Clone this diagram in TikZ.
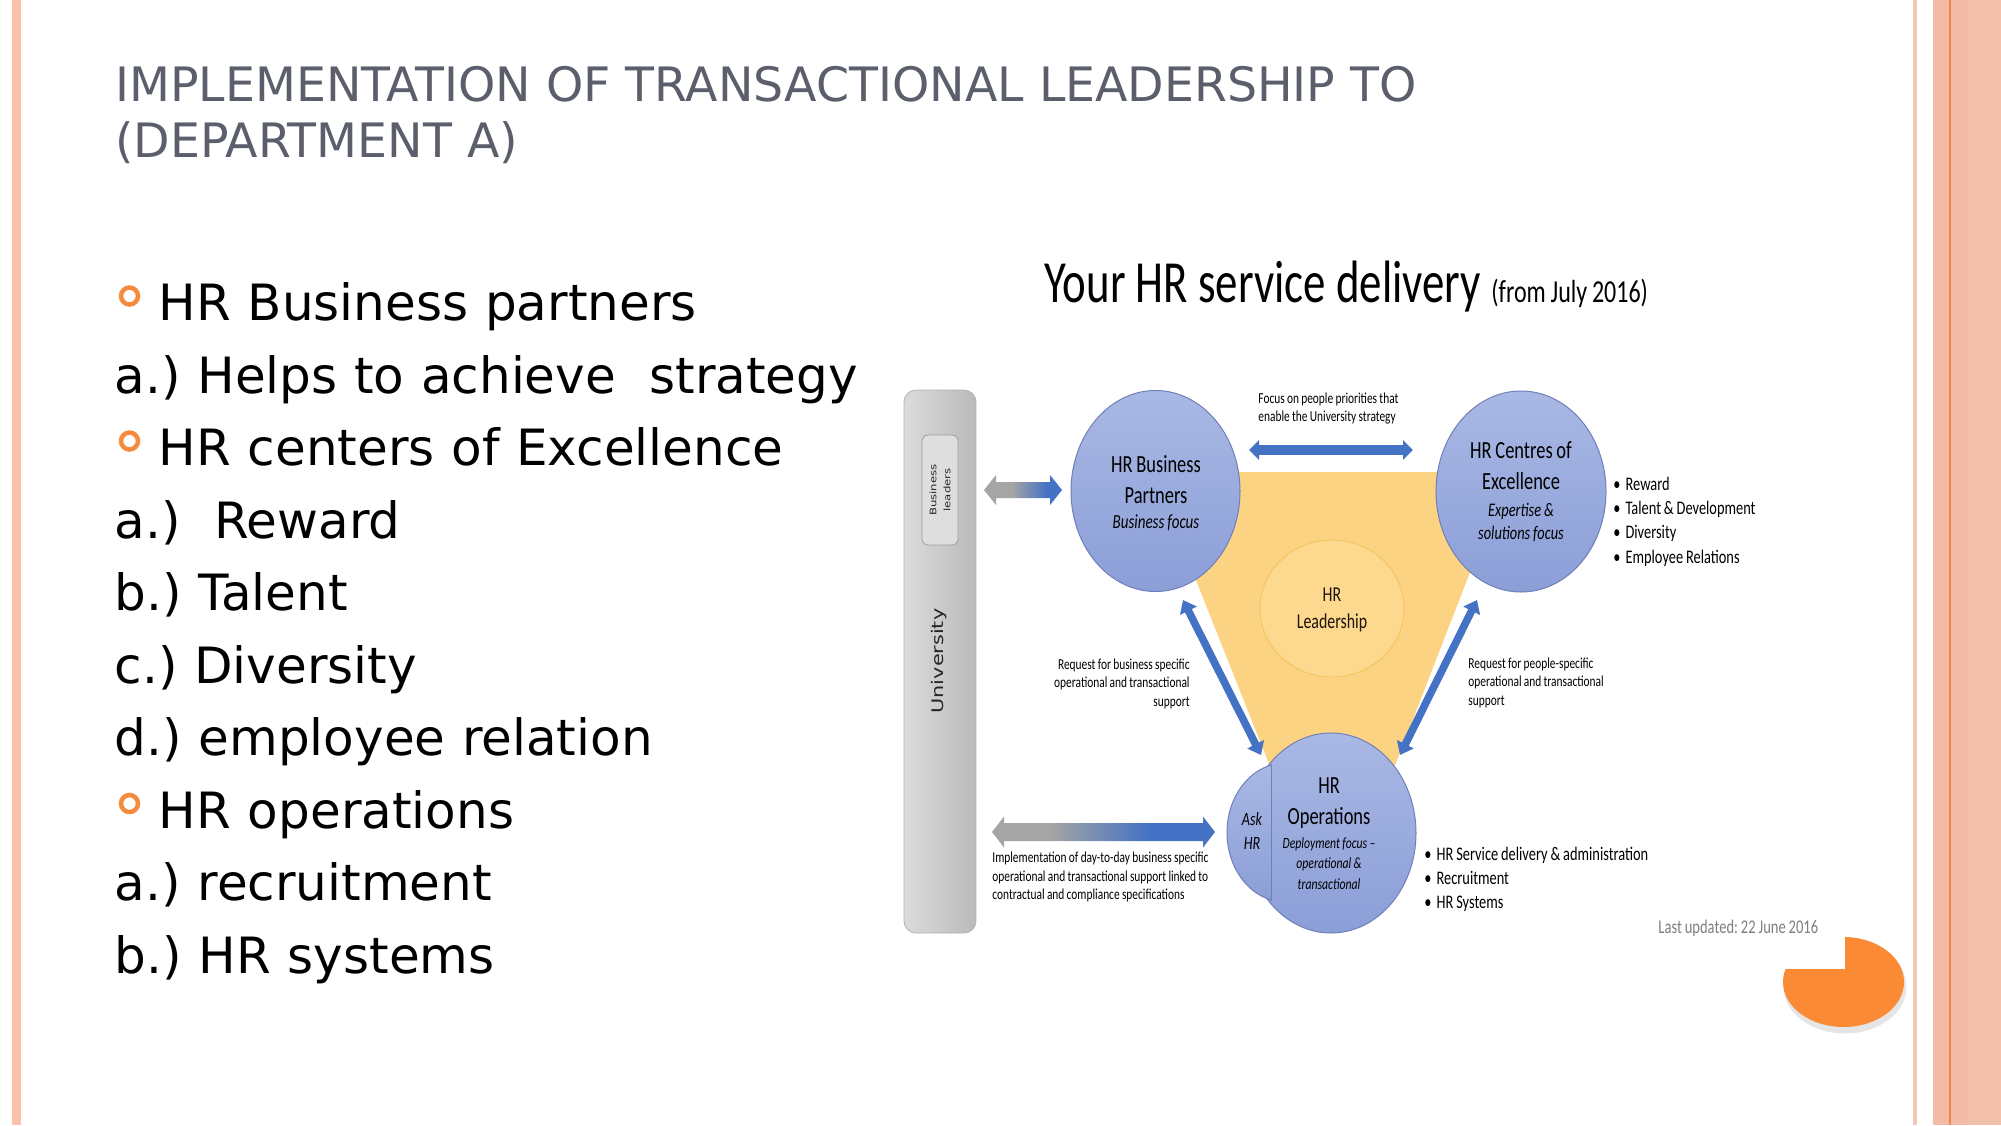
\documentclass[tikz,border=0pt]{standalone}
\usepackage{fontspec}
\setmainfont{DejaVu Sans}
\newfontfamily\dgfont[FakeStretch=0.75]{Carlito}
\newfontfamily\dgtitle[FakeStretch=0.75]{Carlito}
\newfontfamily\rotfont[FakeStretch=1.3]{DejaVu Sans}
\usetikzlibrary{shapes.geometric,arrows.meta}
\frenchspacing
\newcommand\tightsp{\spaceskip=0.15em\relax\xspaceskip=0.15em\relax}
\definecolor{titlegray}{HTML}{5B5F6B}
\definecolor{ringorange}{HTML}{F58B3C}
\definecolor{lborder}{HTML}{FBC2AB}
\definecolor{rthin}{HTML}{F8C6B4}
\definecolor{rband}{HTML}{F3BBA6}
\definecolor{rband2}{HTML}{F2BFAA}
\definecolor{rline}{HTML}{F08848}
\definecolor{triyellow}{HTML}{FBD382}
\definecolor{leadyellow}{HTML}{FCD98F}
\definecolor{leadborder}{HTML}{F2C45A}
\definecolor{ctop}{HTML}{A9B8E4}
\definecolor{cbot}{HTML}{8B9ED7}
\definecolor{cborder}{HTML}{6F80B8}
\definecolor{ablue}{HTML}{4472C4}
\definecolor{agray}{HTML}{A5A5A5}
\definecolor{pieorange}{HTML}{FA8A34}
\definecolor{lastgray}{HTML}{7F7F7F}
\pgfdeclarehorizontalshading{gbtop}{100bp}{color(0bp)=(agray); color(43bp)=(agray); color(65bp)=(ablue); color(100bp)=(ablue)}
\pgfdeclarehorizontalshading{gbbot}{100bp}{color(0bp)=(agray); color(38bp)=(agray); color(60bp)=(ablue); color(100bp)=(ablue)}
\tikzset{
  ttl/.style={anchor=base west, inner sep=0, text=titlegray, font=\fontsize{23.7}{28}\selectfont},
  ring/.style={circle, draw=ringorange, line width=2.25pt, minimum size=8.5pt, inner sep=0},
  bluec/.style={ellipse, draw=cborder, line width=0.5pt, top color=ctop, bottom color=cbot, inner sep=0},
  ctitle/.style={anchor=base, inner sep=0, text width=90pt, align=center, font=\dgfont\fontsize{12.3}{15.5}\selectfont},
  csub/.style={anchor=base, inner sep=0, text width=90pt, align=center},
  smalltxt/.style={inner sep=0, text width=125pt, font=\dgfont\fontsize{7.6}{9.25}\selectfont},
  blist/.style={anchor=base west, inner sep=0, text width=120pt, align=left, font=\dgfont\fontsize{9.6}{12.2}\selectfont},
  blarrow/.style={draw=ablue, line width=5pt, {Triangle[length=5pt,width=9.5pt]}-{Triangle[length=5pt,width=9.5pt]}},
  diarrow/.style={draw=ablue, line width=3.8pt, {Triangle[length=6pt,width=9pt]}-{Triangle[length=6pt,width=9pt]}},
}
\begin{document}
\begin{tikzpicture}[x=0.5pt,y=-0.5pt]
\useasboundingbox (0,0) rectangle (2001,1125);
\fill[white] (0,0) rectangle (2001,1125);
% borders
\fill[lborder] (12,0) rectangle (21,1125);
\fill[rthin] (1913,0) rectangle (1917,1125);
\fill[rband] (1933,0) rectangle (2001,1125);
\fill[rband2] (1968,0) rectangle (2001,1125);
\fill[rline] (1949,0) rectangle (1951,1125);
% title
\node[ttl] (t1) at (115,101) {IMPLEMENTATION OF TRANSACTIONAL LEADERSHIP TO};
\node[ttl] (t2) at (115,157) {(DEPARTMENT A)};
% body
\node[anchor=base west, inner sep=0, text width=400pt, align=left, font=\fontsize{25}{36.25}\selectfont] (body) at (114.5,320.7)
{\hspace*{22pt}HR Business partners\\
a.) Helps to achieve\ \ strategy\\
\hspace*{22pt}HR centers of Excellence\\
a.)\ \ Reward\\
b.) Talent\\
c.) Diversity\\
d.) employee relation\\
\hspace*{22pt}HR operations\\
a.) recruitment\\
b.) HR systems};
\node[ring] (r1) at (129.5,296) {};
\node[ring] (r2) at (129.5,441) {};
\node[ring] (r3) at (129.5,803.5) {};
% diagram title
\node[anchor=base west, inner sep=0, font=\dgtitle\fontsize{29.9}{30}\selectfont] (dtitle) at (1044,302) {Your HR service delivery};
\node[anchor=base west, inner sep=0, font=\dgtitle\fontsize{16}{18}\selectfont] (dsub) at (1491,302) {\tightsp(from July 2016)};
% university bar
\node[rectangle, rounded corners=6pt, minimum width=36pt, minimum height=271.5pt, left color=black!14, right color=black!27, draw=black!30, line width=0.4pt] (bar) at (940,661.5) {};
\node[rectangle, rounded corners=3pt, minimum width=18pt, minimum height=55pt, fill=black!13, draw=black!38, line width=0.4pt] (blbox) at (940,490) {};
\node[rotate=90, inner sep=0, align=center, text=black!85, font=\rotfont\fontsize{4.5}{7}\selectfont] (bltext) at (940,490) {Business\\leaders};
\node[rotate=90, inner sep=0, text=black!85, font=\rotfont\fontsize{8}{10}\selectfont] (univ) at (939,661) {University};
% triangle
\fill[triyellow] (1153,472) -- (1509,472) -- (1333,925) -- cycle;
% circles
\node[ellipse, fill=leadyellow, draw=leadborder, line width=0.4pt, minimum width=72pt, minimum height=68.5pt, inner sep=0] (lead) at (1332,608.5) {};
\node[bluec, minimum width=84.5pt, minimum height=100.5pt] (bp) at (1155.5,491) {};
\node[bluec, minimum width=85pt, minimum height=100.5pt] (coe) at (1521,491.5) {};
\node[bluec, minimum width=85pt, minimum height=100pt] (ops) at (1331,833) {};
\begin{scope}
\clip (1200,700) rectangle (1271,960);
\node[bluec, minimum width=58pt, minimum height=69.5pt] (askhr) at (1285,832.5) {};
\end{scope}
\draw[cborder, line width=0.5pt] (1271,764) -- (1271,901);
% circle texts
\node[ctitle] (bpt) at (1156,472) {\tightsp HR Business\\Partners};
\node[csub, font=\dgfont\itshape\fontsize{10}{12}\selectfont] (bps) at (1156,528) {\tightsp Business focus};
\node[ctitle] (coet) at (1521,458) {\tightsp HR Centres of\\Excellence};
\node[csub, font=\dgfont\itshape\fontsize{9.6}{11.5}\selectfont] (coes) at (1521,516) {\tightsp Expertise \&\\solutions focus};
\node[csub, text=black!85!brown, font=\dgfont\fontsize{10.6}{13.2}\selectfont] (leadt) at (1332,601.7) {HR\\Leadership};
\node[ctitle] (opst) at (1329,793) {HR\\Operations};
\node[csub, font=\dgfont\itshape\fontsize{7.8}{10.25}\selectfont] (opss) at (1329,848) {\tightsp Deployment focus –\\operational \&\\transactional};
\node[csub, text width=30pt, font=\dgfont\itshape\fontsize{9.4}{12}\selectfont] (askt) at (1252,825) {Ask\\HR};
% arrows
\coordinate (ta1) at (1249,450);
\coordinate (ta2) at (1413,450);
\draw[blarrow] (ta1) -- (ta2);
\coordinate (dl1) at (1183,600);
\coordinate (dl2) at (1261,755);
\draw[diarrow] (dl1) -- (dl2);
\coordinate (dr1) at (1477,600);
\coordinate (dr2) at (1400,755);
\draw[diarrow] (dr1) -- (dr2);
\coordinate (ga1) at (984,490);
\shade[shading=gbtop] (ga1) -- ++(12,-15) -- ++(0,7) -- ++(54,0) -- ++(0,-7) -- ++(12,15) -- ++(-12,15) -- ++(0,-7) -- ++(-54,0) -- ++(0,7) -- cycle;
\coordinate (gb1) at (992,832);
\shade[shading=gbbot] (gb1) -- ++(12,-15.5) -- ++(0,6.5) -- ++(199,0) -- ++(0,-6.5) -- ++(12,15.5) -- ++(-12,15.5) -- ++(0,-6.5) -- ++(-199,0) -- ++(0,6.5) -- cycle;
% small texts
\node[smalltxt, anchor=base west, align=left] (focus) at (1258,403) {\tightsp Focus on people priorities that\\enable the University strategy};
\node[smalltxt, anchor=base east, align=right] (reqb) at (1190,669) {\tightsp Request for business specific\\operational and transactional\\support};
\node[smalltxt, anchor=base west, align=left] (reqp) at (1468,668) {\tightsp Request for people-specific\\operational and transactional\\support};
\node[smalltxt, anchor=base west, align=left, font=\dgfont\fontsize{7.6}{9.3}\selectfont] (impl) at (992,862.7) {\tightsp Implementation of day-to-day business specific\\operational and transactional support linked to\\contractual and compliance specifications};
% bullet lists
\node[blist] (coel) at (1613,490) {\tightsp•\hspace{2.5pt}Reward\\•\hspace{2.5pt}Talent \& Development\\•\hspace{2.5pt}Diversity\\•\hspace{2.5pt}Employee Relations};
\node[blist, font=\dgfont\fontsize{9.6}{12.1}\selectfont] (opsl) at (1424,860) {\tightsp•\hspace{2.5pt}HR Service delivery \& administration\\•\hspace{2.5pt}Recruitment\\•\hspace{2.5pt}HR Systems};
\node[anchor=base west, inner sep=0, text=lastgray, font=\dgfont\fontsize{9.7}{12}\selectfont] (last) at (1658,933) {\tightsp Last updated: 22 June 2016};
% orange pie
\begin{scope}
\clip (1845,900) rectangle (1930,1050) (1760,969) rectangle (1930,1050);
\fill[black, opacity=0.10] (1845,987) ellipse [x radius=61.5, y radius=46.5];
\fill[pieorange] (1843.5,982) ellipse [x radius=60.5, y radius=45];
\end{scope}
\end{tikzpicture}
\end{document}
